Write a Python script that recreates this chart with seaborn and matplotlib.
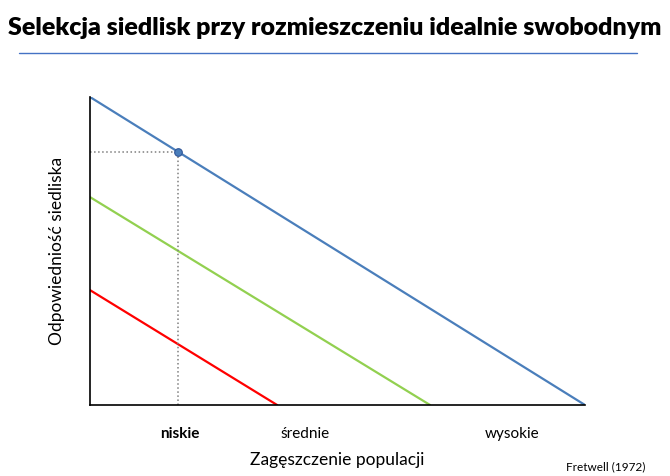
import numpy as np
import pandas as pd
import matplotlib
matplotlib.use("Agg")
import matplotlib.pyplot as plt
import seaborn as sns
from matplotlib.lines import Line2D

# Data (x = density, y = habitat suitability)
habitats = ['dobre', 'średnie', 'słabe']
start_y = [10.0, 6.75, 3.73]
end_x = [10.0, 6.87, 3.78]
line_colors = ['#4a7ebb', '#92d050', '#ff0000']
point_x = 1.78
tick_pos = [1.82, 4.34, 8.53]
tick_labels = ['niskie', 'średnie', 'wysokie']

rows = []
for h, y0, x1 in zip(habitats, start_y, end_x):
    rows.append({'habitat': h, 'x': 0.0, 'y': y0})
    rows.append({'habitat': h, 'x': x1, 'y': 0.0})
df = pd.DataFrame(rows)

sns.set_style('white')
plt.rcParams['font.family'] = ['Lato', 'DejaVu Sans']
plt.rcParams['text.color'] = 'black'
plt.rcParams['axes.labelcolor'] = 'black'
plt.rcParams['xtick.color'] = 'black'

fig = plt.figure(figsize=(6.7, 4.76), dpi=100)
ax = fig.add_axes([90 / 670, 71 / 476, 495 / 670, 308 / 476])

sns.lineplot(data=df, x='x', y='y', hue='habitat', palette=line_colors,
             linewidth=1.6, legend=False, ax=ax)

point_y = start_y[0] - start_y[0] / end_x[0] * point_x
ax.plot([0, point_x], [point_y, point_y], color='#7f7f7f', linestyle=':', linewidth=1.1)
ax.plot([point_x, point_x], [0, point_y], color='#7f7f7f', linestyle=':', linewidth=1.1)
ax.scatter([point_x], [point_y], s=30, color='#4a7ebb', edgecolor='#2f5597',
           linewidth=0.8, zorder=5)

ax.set_xlim(0, 10)
ax.set_ylim(0, 10)
ax.set_yticks([])
ax.set_xticks(tick_pos)
ax.set_xticklabels(tick_labels, fontsize=11)
ax.get_xticklabels()[0].set_fontweight('bold')
ax.tick_params(axis='x', length=0, pad=16)
ax.set_xlabel('Zagęszczenie populacji', fontsize=12.5, labelpad=8)
ax.set_ylabel('Odpowiedniość siedliska', fontsize=12.5, labelpad=18)

for side in ['top', 'right']:
    ax.spines[side].set_visible(False)
for side in ['left', 'bottom']:
    ax.spines[side].set_color('#000000')
    ax.spines[side].set_linewidth(1.2)

fig.text(0.5, 1 - 28 / 476, 'Selekcja siedlisk przy rozmieszczeniu idealnie swobodnym',
         ha='center', va='center', fontsize=18, fontweight='heavy')
fig.add_artist(Line2D([19 / 670, 637 / 670], [1 - 53 / 476, 1 - 53 / 476],
                      color='#4472c4', linewidth=1.0))
fig.text(645 / 670, 1 - 467 / 476, 'Fretwell (1972)', ha='right', va='center', fontsize=8.5)

fig.savefig('out.png', dpi=100)
